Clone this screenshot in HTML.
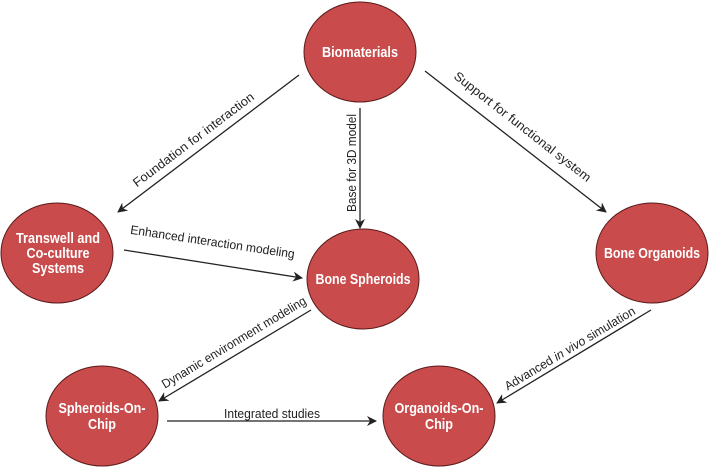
<!DOCTYPE html>
<html><head><meta charset="utf-8"><style>
html,body{margin:0;padding:0;background:#fff;}
svg{display:block;}
.n{fill:#c94b4c;stroke:#5a1a1a;stroke-width:1;}
.t{font-family:"Liberation Sans",sans-serif;font-weight:bold;fill:#fff;font-size:15px;text-anchor:middle;}
.l{font-family:"Liberation Sans",sans-serif;fill:#222;font-size:12.5px;text-anchor:middle;}
.a{stroke:#222;stroke-width:1.3;fill:none;marker-end:url(#ah);}
</style></head><body>
<svg width="709" height="468" viewBox="0 0 709 468" xmlns="http://www.w3.org/2000/svg">
<defs><marker id="ah" markerWidth="10" markerHeight="10" refX="9" refY="5" orient="auto" markerUnits="userSpaceOnUse"><path d="M0,0 L10,5 L0,10 L3,5 Z" fill="#222"/></marker></defs>
<line class="a" x1="299" y1="75" x2="118" y2="212"/>
<line class="a" x1="360" y1="108" x2="360" y2="228"/>
<line class="a" x1="425" y1="71" x2="606" y2="212"/>
<line class="a" x1="124" y1="250" x2="302" y2="278"/>
<line class="a" x1="311" y1="310" x2="159" y2="401"/>
<line class="a" x1="651" y1="310" x2="497" y2="403"/>
<line class="a" x1="167" y1="421" x2="376" y2="421"/>
<text class="l" transform="translate(196,143) rotate(-37)" textLength="148" lengthAdjust="spacingAndGlyphs">Foundation for interaction</text>
<text class="l" transform="translate(356,163) rotate(-90)" textLength="98" lengthAdjust="spacingAndGlyphs">Base for 3D model</text>
<text class="l" transform="translate(520,130) rotate(38)" textLength="170" lengthAdjust="spacingAndGlyphs">Support for functional system</text>
<text class="l" transform="translate(212,246) rotate(8.5)" textLength="166" lengthAdjust="spacingAndGlyphs">Enhanced interaction modeling</text>
<text class="l" transform="translate(236,346) rotate(-31)" textLength="166" lengthAdjust="spacingAndGlyphs">Dynamic environment modeling</text>
<text class="l" transform="translate(572,352) rotate(-31)" textLength="150" lengthAdjust="spacingAndGlyphs">Advanced <tspan font-style="italic">in vivo</tspan> simulation</text>
<text class="l" x="272" y="418" textLength="96" lengthAdjust="spacingAndGlyphs">Integrated studies</text>
<ellipse class="n" cx="360" cy="52" rx="56" ry="50"/>
<ellipse class="n" cx="57" cy="253" rx="56" ry="50"/>
<ellipse class="n" cx="363" cy="279" rx="56" ry="50"/>
<ellipse class="n" cx="652" cy="253" rx="56" ry="50"/>
<ellipse class="n" cx="102" cy="416" rx="56" ry="50"/>
<ellipse class="n" cx="439" cy="416" rx="56" ry="50"/>
<text class="t" x="360" y="57" textLength="76" lengthAdjust="spacingAndGlyphs">Biomaterials</text>
<text class="t" x="58" y="243" textLength="84" lengthAdjust="spacingAndGlyphs">Transwell and</text>
<text class="t" x="58" y="258" textLength="63" lengthAdjust="spacingAndGlyphs">Co-culture</text>
<text class="t" x="58" y="273" textLength="52" lengthAdjust="spacingAndGlyphs">Systems</text>
<text class="t" x="363" y="284" textLength="95" lengthAdjust="spacingAndGlyphs">Bone Spheroids</text>
<text class="t" x="652" y="258" textLength="96" lengthAdjust="spacingAndGlyphs">Bone Organoids</text>
<text class="t" x="102" y="413" textLength="87" lengthAdjust="spacingAndGlyphs">Spheroids-On-</text>
<text class="t" x="102" y="429" textLength="28" lengthAdjust="spacingAndGlyphs">Chip</text>
<text class="t" x="439" y="413" textLength="89" lengthAdjust="spacingAndGlyphs">Organoids-On-</text>
<text class="t" x="439" y="429" textLength="28" lengthAdjust="spacingAndGlyphs">Chip</text>
</svg>
</body></html>
